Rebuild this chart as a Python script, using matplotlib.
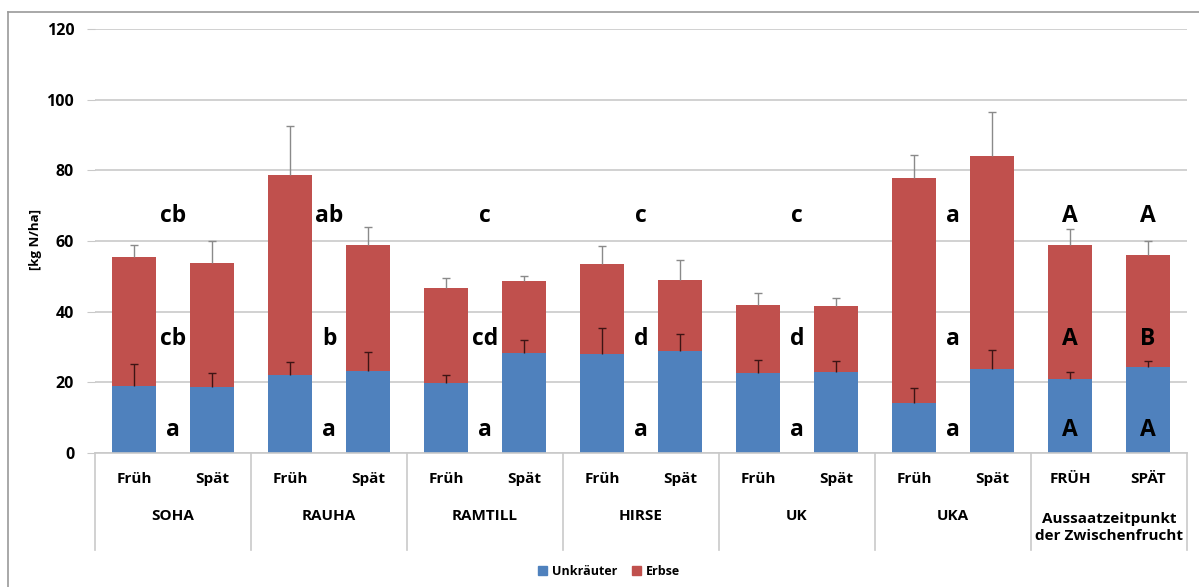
import numpy as np
import matplotlib.pyplot as plt
import matplotlib.transforms as mtransforms
from matplotlib.patches import Patch
from matplotlib.lines import Line2D

plt.rcParams['font.family'] = ['Open Sans', 'DejaVu Sans']
plt.rcParams['font.weight'] = 'bold'

# ---------------------------------------------------------------- data
groups = ['SOHA', 'RAUHA', 'RAMTILL', 'HIRSE', 'UK', 'UKA',
          'Aussaatzeitpunkt\nder Zwischenfrucht']
sub_labels = ['Früh', 'Spät'] * 6 + ['FRÜH', 'SPÄT']

unkraut = [19.1, 18.7, 22.2, 23.2, 19.8, 28.4, 27.9, 28.9, 22.7, 22.8, 14.2, 23.8, 21.0, 24.4]
unkraut_err = [6.1, 4.0, 3.6, 5.4, 2.3, 3.6, 7.5, 4.8, 3.7, 3.1, 4.1, 5.3, 1.9, 1.7]
total = [55.4, 53.9, 78.6, 58.8, 46.7, 48.7, 53.4, 49.1, 42.0, 41.5, 77.9, 84.1, 59.0, 56.1]
total_err = [3.4, 6.2, 14.0, 5.2, 2.7, 1.4, 5.1, 5.4, 3.2, 2.5, 6.3, 12.5, 4.4, 3.9]
erbse = [t - u for t, u in zip(total, unkraut)]

# letters per group (first 6 groups, centred between the bars)
let_total = ['cb', 'ab', 'c', 'c', 'c', 'a']
let_erbse = ['cb', 'b', 'cd', 'd', 'd', 'a']
let_unkraut = ['a', 'a', 'a', 'a', 'a', 'a']
# letters for the last group (one per bar)
let_total_last = ['A', 'A']
let_erbse_last = ['A', 'B']
let_unkraut_last = ['A', 'A']
letter_rows = [67.2, 32.2, 6.6]

ColorBlue = '#4F81BD'
ColorRed = '#C0504D'
ColorGrid = '#c9c9c9'

# ---------------------------------------------------------------- figure
fig = plt.figure(figsize=(11.99, 5.87), dpi=100)
ax = fig.add_axes([95 / 1199, 134 / 587, 1092 / 1199, 424 / 587])

x = np.arange(len(total)) + 0.5
w = 0.565
ax.bar(x, unkraut, w, color=ColorBlue, zorder=2)
ax.bar(x, erbse, w, bottom=unkraut, color=ColorRed, zorder=2)

# only upper whiskers, like Excel "plus" error bars
def upper_err(base, err, color):
    top = np.array(base) + np.array(err)
    ax.vlines(x, base, top, color=color, linewidth=1, zorder=3)
    ax.hlines(top, x - 0.045, x + 0.045, color=color, linewidth=1, zorder=3)

upper_err(unkraut, unkraut_err, '#3d1414')
upper_err(total, total_err, '#8a8a8a')

ax.set_xlim(0, len(total))
ax.set_ylim(0, 120)
ax.set_yticks(np.arange(0, 121, 20))
ax.yaxis.grid(True, color=ColorGrid, linewidth=1.2, zorder=0)
ax.set_axisbelow(True)
ax.tick_params(axis='y', length=6, color=ColorGrid, pad=9, labelsize=11.5)
ax.set_xticks([])
for s in ['top', 'right', 'left']:
    ax.spines[s].set_visible(False)
ax.spines['bottom'].set_color(ColorGrid)
ax.spines['bottom'].set_linewidth(1.2)
for lab in ax.get_yticklabels():
    lab.set_fontweight('bold')

fig.text(35 / 1199, 1 - 240 / 587, '[kg N/ha]', rotation=90, ha='center',
         va='center', fontsize=9.5, fontweight='bold')

# ---------------------------------------------------------------- letters
for g in range(6):
    cx = 2 * g + 1
    for txt, yy in zip([let_total[g], let_erbse[g], let_unkraut[g]], letter_rows):
        ax.text(cx, yy, txt, ha='center', va='center', fontsize=16.5,
                fontweight='bold', zorder=4)
for i in range(2):
    cx = x[12 + i]
    for txt, yy in zip([let_total_last[i], let_erbse_last[i], let_unkraut_last[i]],
                       letter_rows):
        ax.text(cx, yy, txt, ha='center', va='center', fontsize=16.5,
                fontweight='bold', zorder=4)

# ---------------------------------------------------------------- category axis
trans = mtransforms.blended_transform_factory(ax.transData, ax.transAxes)
for b in range(0, len(total) + 1, 2):
    ax.plot([b, b], [0, -0.229], color=ColorGrid, linewidth=1.2,
            transform=trans, clip_on=False)
for xi, lab in zip(x, sub_labels):
    ax.text(xi, -0.0613, lab, ha='center', va='center', fontsize=11,
            fontweight='bold', transform=trans)
for g, name in enumerate(groups):
    yy = -0.175 if '\n' in name else -0.149
    ax.text(2 * g + 1, yy, name, ha='center', va='center', fontsize=11,
            fontweight='bold', transform=trans, linespacing=1.3)

# ---------------------------------------------------------------- legend
handles = [Patch(color=ColorBlue, label='Unkräuter'),
           Patch(color=ColorRed, label='Erbse')]
fig.legend(handles=handles, loc='center', bbox_to_anchor=(0.508, 0.027), ncol=2,
           frameon=False, handlelength=0.7, handleheight=0.7, handletextpad=0.4,
           columnspacing=1.2, prop={'weight': 'bold', 'size': 9})

# frame (only top/left visible in the crop)
fig.add_artist(Line2D([8 / 1199, 1], [1 - 11.7 / 587] * 2, color='#9a9a9a',
                      linewidth=1.2, transform=fig.transFigure))
fig.add_artist(Line2D([8 / 1199] * 2, [0, 1 - 11.7 / 587], color='#9a9a9a',
                      linewidth=1.2, transform=fig.transFigure))

fig.savefig('out.png', dpi=100)
